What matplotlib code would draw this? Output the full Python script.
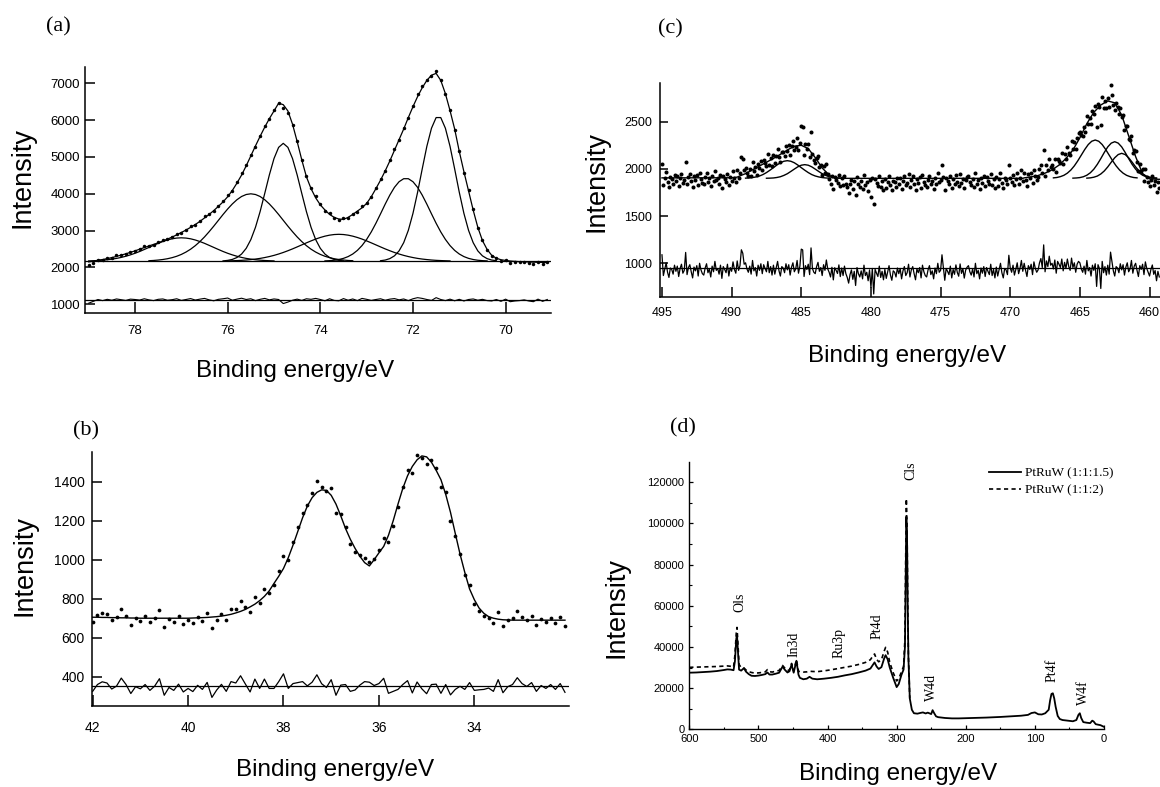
import numpy as np
import matplotlib
matplotlib.use("Agg")
import matplotlib.pyplot as plt

plt.rcParams['font.family'] = ['Liberation Sans', 'DejaVu Sans']

# ---------------- (a) Pt 4f, 0.1 eV steps from 79.0 eV ----------------
a_start = 79.0
a_fit = [2150, 2170, 2195, 2215, 2240, 2268, 2300, 2335, 2370, 2410,
         2450, 2497, 2540, 2584, 2626, 2668, 2718, 2770, 2825, 2885,
         2950, 3015, 3090, 3165, 3250, 3345, 3440, 3545, 3660, 3780,
         3920, 4090, 4290, 4508, 4760, 5030, 5300, 5560, 5810, 6040,
         6250, 6460, 6420, 6250, 5890, 5420, 4920, 4462, 4140, 3890,
         3700, 3560, 3440, 3360, 3315, 3305, 3360, 3440, 3530, 3620,
         3740, 3920, 4140, 4370, 4620, 4890, 5180, 5470, 5760, 6070,
         6365, 6640, 6880, 7080, 7220, 7270, 7080, 6720, 6260, 5760,
         5150, 4600, 4080, 3557, 3090, 2730, 2490, 2330, 2250, 2210,
         2190, 2175, 2165, 2158, 2152, 2148, 2144, 2140, 2136, 2132]
a_dots = [2060, 2130, 2205, 2195, 2255, 2258, 2325, 2340, 2355, 2430,
          2460, 2492, 2570, 2584, 2606, 2683, 2743, 2760, 2830, 2915,
          2935, 3025, 3125, 3160, 3270, 3385, 3440, 3520, 3675, 3810,
          3970, 4080, 4310, 4553, 4770, 5060, 5280, 5575, 5850, 6040,
          6275, 6470, 6320, 6190, 5880, 5440, 4905, 4492, 4155, 3930,
          3710, 3535, 3470, 3345, 3290, 3340, 3350, 3465, 3510, 3660,
          3755, 3905, 4150, 4400, 4610, 4910, 5215, 5470, 5785, 6050,
          6395, 6700, 6920, 7090, 7205, 7330, 7090, 6700, 6280, 5735,
          5165, 4570, 4090, 3582, 3080, 2745, 2470, 2300, 2260, 2170,
          2210, 2125, 2135, 2138, 2152, 2118, 2094, 2160, 2096, 2142]
a_baseline = 2170
a_resid_zero = 1120

# fitted components: (first energy, values every 0.1 eV)
a_comp1 = (72.7, [2183, 2201, 2240, 2315, 2450, 2673, 3008, 3468, 4041, 4676, 5290, 5781, 6070,
                  6070, 5781, 5290, 4676, 4041, 3468, 3008, 2673, 2450, 2315, 2240, 2201, 2183])
a_comp2 = (73.9, [2178, 2185, 2196, 2216, 2247, 2295, 2365, 2463, 2594, 2762, 2965, 3200, 3456,
                  3718, 3964, 4175, 4328, 4410, 4410, 4328, 4175, 3964, 3718, 3456, 3200, 2965,
                  2762, 2594, 2463, 2365, 2295, 2247, 2216, 2196, 2185, 2178])
a_comp3 = (76.0, [2178, 2182, 2187, 2193, 2202, 2214, 2228, 2246, 2269, 2296, 2328, 2365, 2407,
                  2454, 2504, 2558, 2613, 2668, 2721, 2771, 2814, 2850, 2877, 2894, 2900, 2894,
                  2877, 2850, 2814, 2771, 2721, 2668, 2613, 2558, 2504, 2454, 2407, 2365, 2328,
                  2296, 2269, 2246, 2228, 2214, 2202, 2193, 2187, 2182, 2178])
a_comp4 = (76.1, [2179, 2192, 2218, 2270, 2364, 2519, 2756, 3090, 3516, 4009, 4513, 4957, 5261,
                  5370, 5261, 4957, 4513, 4009, 3516, 3090, 2756, 2519, 2364, 2270, 2218, 2192, 2179])
a_comp5 = (77.7, [2183, 2190, 2201, 2216, 2237, 2266, 2304, 2354, 2418, 2496, 2591, 2702, 2829,
                  2971, 3122, 3280, 3438, 3588, 3724, 3839, 3927, 3981, 4000, 3981, 3927, 3839,
                  3724, 3588, 3438, 3280, 3122, 2971, 2829, 2702, 2591, 2496, 2418, 2354, 2304,
                  2266, 2237, 2216, 2201, 2190, 2183])
a_comp6 = (79.0, [2178, 2183, 2189, 2198, 2210, 2226, 2246, 2272, 2304, 2342, 2385, 2434, 2488,
                  2544, 2600, 2655, 2704, 2746, 2778, 2798, 2805, 2798, 2778, 2746, 2704, 2655,
                  2600, 2544, 2488, 2434, 2385, 2342, 2304, 2272, 2246, 2226, 2210, 2198, 2189,
                  2183, 2178])
a_components = [a_comp1, a_comp2, a_comp3, a_comp4, a_comp5, a_comp6]

# ---------------- (b) W 4f, 0.1 eV steps from 42.0 eV ----------------
b_start = 42.0
b_fit = [705, 705, 704, 704, 703, 703, 702, 702, 701, 701,
         700, 700, 700, 700, 700, 700, 700, 700, 700, 700,
         700, 701, 702, 703, 704, 706, 708, 711, 715, 720,
         727, 735, 745, 758, 772, 790, 812, 840, 878, 915,
         955, 1010, 1075, 1145, 1215, 1275, 1318, 1345, 1358, 1355,
         1330, 1285, 1225, 1160, 1105, 1058, 1018, 985, 968, 1000,
         1035, 1068, 1125, 1200, 1285, 1365, 1430, 1478, 1512, 1532,
         1527, 1500, 1458, 1410, 1335, 1243, 1135, 1029, 935, 850,
         795, 752, 725, 708, 700, 695, 692, 691, 690, 690,
         690, 690, 690, 690, 690, 690, 690, 690, 690, 690]
b_dots = [680, 715, 728, 722, 690, 705, 745, 712, 665, 700,
          688, 710, 680, 702, 740, 655, 695, 680, 712, 672,
          690, 675, 708, 688, 725, 650, 690, 722, 690, 745,
          745, 790, 758, 730, 810, 780, 850, 830, 868, 940,
          1020, 1000, 1090, 1165, 1240, 1278, 1340, 1405, 1372, 1350,
          1365, 1240, 1232, 1170, 1080, 1040, 1025, 1010, 990, 1005,
          1050, 1110, 1090, 1175, 1270, 1375, 1460, 1445, 1535, 1520,
          1490, 1510, 1470, 1375, 1345, 1200, 1120, 1030, 920, 870,
          775, 735, 710, 700, 675, 730, 660, 690, 700, 735,
          705, 690, 710, 665, 695, 680, 700, 675, 705, 660]
b_resid_zero = 350

# ---------------- (c) Ru 3p, 0.1 eV steps from 495.0 eV ----------------
c_start = 495.0
c_dots = [2050, 1830, 1900, 1965, 1865, 1810, 1910, 1895, 1845, 1940,
          1875, 1930, 1820, 1905, 1950, 1855, 1885, 2075, 1840, 1915,
          1945, 1870, 1805, 1920, 1880, 1935, 1825, 1960, 1890, 1850,
          1835, 1910, 1955, 1860, 1900, 1815, 1930, 1870, 1980, 1885,
          1905, 1845, 1940, 1800, 1925, 1895, 1860, 1950, 1825, 1915,
          1876, 1977, 1899, 1861, 1993, 1900, 1956, 2130, 2100, 1989,
          2010, 1953, 1926, 1999, 1922, 2075, 1973, 2016, 1934, 2057,
          2010, 2088, 1991, 2094, 2062, 2035, 2153, 2041, 2114, 2032,
          2145, 2059, 2138, 2212, 2121, 2075, 2184, 2178, 2137, 2241,
          2185, 2248, 2146, 2239, 2292, 2205, 2237, 2329, 2196, 2273,
          2455, 2440, 2151, 2259, 2212, 2260, 2131, 2395, 2158, 2099,
          2065, 2118, 2141, 2024, 2042, 1935, 2035, 1960, 2055, 1945,
          1895, 1835, 1930, 1790, 1915, 1885, 1850, 1940, 1815, 1905,
          1825, 1925, 1845, 1805, 1745, 1835, 1885, 1785, 1870, 1720,
          1910, 1845, 1810, 1875, 1790, 1935, 1825, 1860, 1770, 1885,
          1700, 1900, 1630, 1890, 1850, 1815, 1925, 1805, 1870, 1780,
          1890, 1795, 1865, 1930, 1830, 1775, 1875, 1860, 1810, 1905,
          1845, 1900, 1790, 1875, 1920, 1825, 1855, 1945, 1810, 1885,
          1920, 1845, 1780, 1895, 1855, 1910, 1800, 1935, 1865, 1825,
          1810, 1885, 1930, 1835, 1875, 1790, 1905, 1845, 1955, 1860,
          1880, 2045, 1915, 1775, 1900, 1870, 1835, 1925, 1800, 1890,
          1838, 1938, 1858, 1818, 1948, 1848, 1898, 1798, 1883, 1913,
          1930, 1865, 1830, 1895, 1810, 1955, 1845, 1880, 1790, 1905,
          1850, 1920, 1815, 1910, 1870, 1835, 1945, 1825, 1890, 1800,
          1915, 1820, 1890, 1955, 1855, 1800, 1900, 1885, 1835, 2040,
          1905, 1860, 1935, 1830, 1890, 1960, 1845, 1900, 1985, 1870,
          1960, 1887, 1824, 1941, 1903, 1960, 1853, 1991, 1924, 1887,
          1915, 1995, 2045, 1955, 2200, 1920, 2042, 1989, 2106, 2018,
          2045, 1995, 2100, 1970, 2105, 2085, 2064, 2168, 2057, 2161,
          2110, 2228, 2166, 2144, 2292, 2210, 2286, 2212, 2323, 2379,
          2390, 2355, 2350, 2445, 2390, 2565, 2479, 2538, 2472, 2611,
          2580, 2665, 2440, 2686, 2661, 2465, 2761, 2649, 2723, 2641,
          2755, 2656, 2885, 2783, 2679, 2620, 2694, 2653, 2577, 2646,
          2555, 2566, 2412, 2453, 2454, 2315, 2301, 2347, 2168, 2199,
          2185, 2074, 1973, 2052, 1976, 1995, 1874, 1998, 1917, 1866,
          1815, 1885, 1930, 1830, 1870, 1760, 1860, 1800]
c_fit = ([1905] * 50 +
         [1906, 1907, 1909, 1911, 1913, 1920, 1926, 1932, 1938, 1944,
          1950, 1958, 1966, 1974, 1982, 1990, 1998, 2006, 2014, 2022,
          2030, 2038, 2046, 2054, 2062, 2070, 2078, 2086, 2094, 2102,
          2110, 2119, 2128, 2137, 2146, 2155, 2164, 2173, 2182, 2191,
          2200, 2208, 2216, 2224, 2232, 2240, 2242, 2244, 2246, 2248,
          2250, 2243, 2236, 2229, 2222, 2215, 2196, 2177, 2158, 2139,
          2120, 2098, 2076, 2054, 2032, 2010, 1995, 1980, 1965, 1950,
          1935, 1925, 1917, 1911, 1907, 1905, 1903, 1902, 1901, 1900] +
         [1900] * 130 +
         [1905, 1907, 1909, 1911, 1913, 1915, 1918, 1921, 1924, 1927,
          1930, 1935, 1940, 1945, 1950, 1955, 1962, 1969, 1976, 1983,
          1990, 2000, 2010, 2020, 2030, 2040, 2054, 2068, 2082, 2096,
          2110, 2128, 2146, 2164, 2182, 2200, 2226, 2252, 2278, 2304,
          2330, 2360, 2390, 2420, 2450, 2480, 2504, 2528, 2552, 2576,
          2600, 2615, 2630, 2646, 2661, 2677, 2686, 2694, 2703, 2711,
          2720, 2716, 2712, 2708, 2704, 2700, 2674, 2648, 2622, 2596,
          2570, 2526, 2482, 2438, 2394, 2350, 2306, 2262, 2218, 2174,
          2130, 2094, 2058, 2022, 1986, 1950, 1939, 1928, 1917, 1906,
          1895, 1894, 1893, 1892, 1891, 1890, 1890, 1890])
c_resid_zero = 945

# components: (first energy, values every 0.25 eV)
c_compA = (489.0, [1902, 1904, 1908, 1915, 1925, 1940, 1961, 1986, 2013, 2041, 2065, 2081, 2087,
                   2081, 2065, 2041, 2013, 1986, 1961, 1940, 1925, 1915, 1908, 1904, 1902])
c_compB = (487.5, [1901, 1902, 1904, 1909, 1917, 1931, 1949, 1973, 1998, 2022, 2039, 2045,
                   2039, 2022, 1998, 1973, 1949, 1931, 1917, 1909, 1904, 1902, 1901])
c_compC = (466.9, [1905, 1909, 1918, 1932, 1955, 1988, 2032, 2086, 2146, 2206, 2258, 2293, 2306,
                   2293, 2258, 2206, 2146, 2086, 2032, 1988, 1955, 1932, 1918, 1909, 1905])
c_compD = (465.5, [1902, 1904, 1908, 1917, 1933, 1959, 1997, 2048, 2109, 2174, 2233, 2273, 2288,
                   2273, 2233, 2174, 2109, 2048, 1997, 1959, 1933, 1917, 1908, 1904, 1902])
c_compE = (464.5, [1902, 1905, 1912, 1924, 1946, 1978, 2021, 2071, 2118, 2152, 2165,
                   2152, 2118, 2071, 2021, 1978, 1946, 1924, 1912, 1905, 1902])
c_components = [c_compA, c_compB, c_compC, c_compD, c_compE]

# ---------------- (d) survey spectra ----------------
d_energy = [600, 590, 580, 570, 560, 550, 545, 540, 536, 534,
            532, 531, 530, 528, 525, 521, 518, 514, 510, 505,
            500, 495, 490, 487, 484, 480, 475, 470, 465, 462,
            458, 455, 452, 449, 445, 442, 440, 435, 430, 426,
            422, 415, 405, 395, 385, 375, 365, 355, 345, 338,
            334, 332, 329, 326, 322, 318, 316, 313, 310, 305,
            300, 297, 293, 290, 288, 287, 286, 285, 284, 283,
            281, 278, 275, 270, 265, 262, 258, 255, 250, 248,
            246, 243, 240, 230, 220, 210, 200, 190, 180, 170,
            160, 150, 140, 130, 120, 110, 105, 100, 95, 90,
            85, 80, 78, 76, 74, 72, 70, 67, 64, 60,
            55, 50, 45, 40, 37, 35, 33, 30, 25, 20,
            17, 15, 12, 8, 5, 2, 0]
d_ptruw_15 = [27500, 27600, 27800, 28000, 28300, 28800, 29100, 29000, 28700, 33000,
              44000, 45800, 40000, 29000, 28500, 29700, 28000, 26800, 26000, 25900,
              26100, 26400, 26800, 27600, 26600, 26600, 27000, 27500, 30500, 29000,
              27600, 28200, 31500, 27500, 33300, 26500, 25000, 24300, 24600, 25500,
              24600, 24300, 24600, 25000, 25500, 26200, 26800, 27600, 28500, 29500,
              31500, 32500, 30500, 29300, 30200, 34500, 36000, 34000, 30000, 25000,
              20500, 22000, 26500, 29000, 40000, 70000, 103000, 95000, 60000, 35000,
              15000, 9500, 7800, 7600, 8000, 8200, 7700, 8100, 7400, 9300,
              8000, 6300, 5900, 5500, 5300, 5300, 5400, 5500, 5600, 5700,
              5850, 6000, 6200, 6400, 6600, 7000, 7900, 8200, 7300, 7200,
              7800, 9500, 14000, 17200, 17500, 15000, 11000, 6500, 5000, 4500,
              4300, 4100, 3900, 4500, 7000, 7800, 5500, 3500, 3200, 3000,
              4200, 3800, 2500, 2200, 2000, 1500, 1200]
# the 1:1:2 trace only differs above ~280 eV
d_ptruw_2 = [30100, 30200, 30300, 30400, 30500, 30700, 30800, 30600, 30200, 36000,
             47000, 49500, 44000, 31500, 30000, 29800, 28800, 28000, 27600, 27300,
             27400, 27600, 27900, 29000, 28000, 27800, 28200, 28600, 31000, 29800,
             28400, 29000, 32000, 28300, 33800, 28200, 28000, 27800, 27900, 28200,
             28100, 28000, 28400, 28900, 29500, 30100, 30700, 31500, 32500, 33800,
             35800, 36600, 34000, 32800, 33800, 38000, 39800, 37500, 32500, 27500,
             23500, 24500, 28000, 30500, 44000, 80000, 112000, 100000, 62000, 36000,
             15000]
d_labels = ['Ols', 'In3d', 'Ru3p', 'Pt4d', 'Cls', 'W4d', 'Pt4f', 'W4f']
d_label_energy = [527, 449, 384, 328, 279, 249, 75, 29]
d_legend = ['PtRuW (1:1:1.5)', 'PtRuW (1:1:2)']


def energies(start, step, n):
    return start - step * np.arange(n)


W, H = 1160, 787
fig = plt.figure(figsize=(W / 100, H / 100), dpi=100)


def px_axes(left, top, right, bottom):
    return fig.add_axes([left / W, 1 - bottom / H, (right - left) / W, (bottom - top) / H])


def style(ax, lw=1.1):
    for side in ('top', 'right'):
        ax.spines[side].set_visible(False)
    for side in ('left', 'bottom'):
        ax.spines[side].set_linewidth(lw)


serif = ['Liberation Serif', 'DejaVu Serif']
k = 'black'

# ---------- panel (a)
ax = px_axes(85, 67, 551, 312.5)
style(ax)
xa = energies(a_start, 0.1, len(a_fit))
ax.axhline(a_baseline, color=k, lw=0.9)
for start, vals in a_components:
    ax.plot(energies(start, 0.1, len(vals)), vals, color=k, lw=0.9)
ax.plot(xa, a_fit, color=k, lw=0.9)
ax.plot(xa, a_dots, 'o', color=k, ms=2.5, mew=0)
ax.plot(xa, np.array(a_dots) - np.array(a_fit) + a_resid_zero, color=k, lw=0.8)
ax.axhline(a_resid_zero, color=k, lw=0.9)
ax.set_xlim(79.08, 69.02)
ax.set_ylim(777, 7443)
ax.set_xticks([78, 76, 74, 72, 70])
ax.set_yticks(range(1000, 7001, 1000))
ax.tick_params(axis='x', direction='in', length=8, width=1.1, labelsize=9.5, pad=9)
ax.tick_params(axis='y', direction='in', length=7, width=1.1, labelsize=9.5, pad=3.5)

# ---------- panel (c)
ax = px_axes(660.3, 83, 1160, 296.7)
style(ax)
xc = energies(c_start, 0.1, len(c_dots))
for start, vals in c_components:
    ax.plot(energies(start, 0.25, len(vals)), vals, color=k, lw=1.0)
ax.plot(xc, c_fit, color=k, lw=1.0)
ax.plot(xc, c_dots, 'o', color=k, ms=2.9, mew=0)
ax.plot(xc, np.array(c_dots) - np.array(c_fit) + c_resid_zero, color=k, lw=0.9)
ax.axhline(c_resid_zero, color=k, lw=0.9)
ax.set_xlim(495.12, 459.25)
ax.set_ylim(646, 2910)
ax.set_xticks(range(495, 459, -5))
ax.set_yticks([1000, 1500, 2000, 2500])
ax.tick_params(axis='x', direction='in', length=7.5, width=1.1, labelsize=9, pad=7.5)
ax.tick_params(axis='y', direction='in', length=6, width=1.1, labelsize=9, pad=6)

# ---------- panel (b)
ax = px_axes(91.7, 452, 568.8, 706)
style(ax)
xb = energies(b_start, 0.1, len(b_fit))
ax.plot(xb, b_fit, color=k, lw=1.0)
ax.plot(xb, b_dots, 'o', color=k, ms=2.7, mew=0)
ax.plot(xb, np.array(b_dots) - np.array(b_fit) + b_resid_zero, color=k, lw=0.9)
ax.axhline(b_resid_zero, color=k, lw=0.9)
ax.set_xlim(42.02, 32.02)
ax.set_ylim(250, 1552)
ax.set_xticks([42, 40, 38, 36, 34])
ax.set_yticks(range(400, 1401, 200))
ax.tick_params(axis='x', direction='in', length=8, width=1.1, labelsize=10, pad=11)
ax.tick_params(axis='y', direction='in', length=7, width=1.1, labelsize=10, pad=5)

# ---------- panel (d)
ax = px_axes(689.3, 461.7, 1104, 729.3)
style(ax, lw=1.0)
l1, = ax.plot(d_energy, d_ptruw_15, color=k, lw=1.3)
l2, = ax.plot(d_energy[:len(d_ptruw_2)], d_ptruw_2, color=k, lw=1.2, ls=(0, (2.5, 2)))
ax.set_xlim(600, 0)
ax.set_ylim(0, 130000)
ax.set_xticks(range(600, -1, -100))
ax.set_xticks(range(550, 0, -100), minor=True)
ax.set_yticks(range(0, 120001, 20000))
ax.set_yticks(range(10000, 130000, 20000), minor=True)
ax.tick_params(which='major', direction='in', length=3, width=0.9, labelsize=8, pad=3.5)
ax.tick_params(which='minor', direction='in', length=1.8, width=0.8)
label_height = [61700, 41400, 41800, 50300, 125600, 20400, 28800, 17900]
for name, e, hgt in zip(d_labels, d_label_energy, label_height):
    ax.text(e, hgt, name, rotation=90, ha='center', va='center', fontsize=10, family=serif)
ax.legend([l1, l2], d_legend, loc='upper left', bbox_to_anchor=(989 / W, 1 - 467 / H),
          bbox_transform=fig.transFigure, frameon=False, borderpad=0, borderaxespad=0,
          handlelength=2.4, handletextpad=0.3, labelspacing=0.4,
          prop={'family': serif, 'size': 9.5})

# ---------- panel letters and axis titles
for txt, x, y in [('(a)', 58, 27), ('(c)', 670, 29), ('(b)', 86, 431), ('(d)', 683, 428)]:
    fig.text(x / W, 1 - y / H, txt, ha='center', va='center', fontsize=16, family=serif)
for x, y in [(295, 371), (907, 356), (335, 770), (898, 774)]:
    fig.text(x / W, 1 - y / H, 'Binding energy/eV', ha='center', va='center', fontsize=17.5)
for x, y in [(23, 177), (596, 181), (24, 566), (617, 608)]:
    fig.text(x / W, 1 - y / H, 'Intensity', ha='center', va='center', fontsize=19.5, rotation=90)

fig.savefig('out.png', dpi=100)
